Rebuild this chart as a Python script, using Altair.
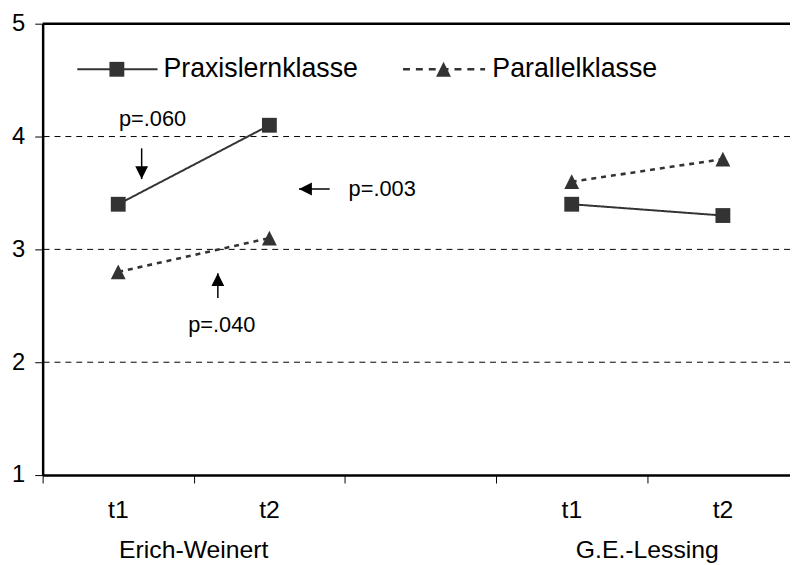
import json
import altair as alt
import pandas as pd

FONT = "Liberation Sans"

# ---- data -------------------------------------------------------------
slot_labels = ["t1", "t2", "", "t1", "t2"]          # x tick labels per slot
slot_ticks = [0, 1, 2, 3, 4]                         # slot boundaries
groups = ["Erich-Weinert", "G.E.-Lessing"]
group_pos = [1, 4]                                   # centre of each group
series = ["Praxislernklasse", "Parallelklasse"]
point_x = [0.5, 1.5, 3.5, 4.5]
point_group = ["Erich-Weinert", "Erich-Weinert", "G.E.-Lessing", "G.E.-Lessing"]
praxis = [3.4, 4.1, 3.4, 3.3]
parallel = [2.8, 3.1, 3.6, 3.8]
y_ticks = [1, 2, 3, 4, 5]
grid_vals = [2, 3, 4]
frame_top = [5]

# legend entries (in axis units)
leg_x1 = [0.229, 2.384]
leg_x2 = [0.760, 2.927]
leg_mid = [0.491, 2.652]
leg_text_x = [0.799, 2.975]
leg_y = [4.596, 4.596]

ann_text = ["p=.060", "p=.003", "p=.040"]
ann_x = [0.727, 2.246, 1.185]
ann_y = [4.158, 3.535, 2.325]
arrow_dir = ["down", "left", "up"]
arrow_x = [0.655, 1.899, 1.159]
arrow_y = [3.895, 3.535, 2.570]
arrow_tip_x = [0.655, 1.696, 1.159]
arrow_tip_y = [3.623, 3.535, 2.789]

# ---- tables -----------------------------------------------------------
rows = []
for s, vals in zip(series, [praxis, parallel]):
    for x, g, v in zip(point_x, point_group, vals):
        rows.append({"x": x, "group": g, "series": s, "value": v, "line": s + g})
df = pd.DataFrame(rows)
df_leg = pd.DataFrame({"series": series, "x": leg_x1, "x2": leg_x2, "mid": leg_mid,
                       "tx": leg_text_x, "value": leg_y})
df_grid = pd.DataFrame({"value": grid_vals})
df_top = pd.DataFrame({"value": frame_top})
df_groups = pd.DataFrame({"x": group_pos, "label": groups})
df_ann = pd.DataFrame({"x": ann_x, "value": ann_y, "label": ann_text})
df_arrow = pd.DataFrame({"x": arrow_x, "value": arrow_y, "tx": arrow_tip_x,
                         "ty": arrow_tip_y, "dir": arrow_dir})

W, H = 755, 456
XMAX = 4.944
xs = alt.Scale(domain=[0, XMAX], nice=False, zero=False)
ys = alt.Scale(domain=[1, 5], nice=False, zero=False)

x_axis = alt.Axis(values=slot_ticks, labelExpr=json.dumps(slot_labels) + "[datum.value]",
                  labelOffset=76, tickSize=8, tickColor="black", tickWidth=1,
                  domainColor="black", domainWidth=2.5, labelFont=FONT,
                  labelFontSize=25, labelColor="black", labelBaseline="middle",
                  labelPadding=27, labelFlush=False, labelOverlap=False,
                  labelBound=False, grid=False, title=None)
y_axis = alt.Axis(values=y_ticks, tickSize=8, tickColor="black", tickWidth=1,
                  domainColor="black", domainWidth=2.5, labelFont=FONT,
                  labelFontSize=24, labelColor="black", labelPadding=10,
                  grid=False, title=None, labelFlush=False, labelOverlap=False)

X = alt.X("x:Q", scale=xs, axis=x_axis)
Y = alt.Y("value:Q", scale=ys, axis=y_axis)
SQUARE = "M-1,-1H1V1H-1Z"
TRIANGLE = "M0,-1L1,1H-1Z"
shape_scale = alt.Scale(domain=series, range=[SQUARE, TRIANGLE])
width_scale = alt.Scale(domain=series, range=[2, 2.6])

grid = alt.Chart(df_grid).mark_rule(color="black", strokeWidth=1, strokeDash=[6, 5]).encode(y=Y)
top = alt.Chart(df_top).mark_rule(color="black", strokeWidth=2.5).encode(y=Y)

lines = alt.Chart(df).mark_line(color="#333333").encode(
    x=X, y=Y, detail="line:N",
    strokeWidth=alt.StrokeWidth("series:N", scale=width_scale, legend=None),
    strokeDash=alt.StrokeDash("series:N", scale=alt.Scale(domain=series, range=[[1, 0], [5, 5]]),
                              legend=None))
points = alt.Chart(df).mark_point(filled=True, color="#333333", size=225, opacity=1).encode(
    x=X, y=Y, shape=alt.Shape("series:N", scale=shape_scale, legend=None))

# legend drawn as marks
leg_lines = alt.Chart(df_leg).mark_rule(color="#333333").encode(
    x=X, x2="x2:Q", y=Y,
    strokeWidth=alt.StrokeWidth("series:N", scale=width_scale, legend=None),
    strokeDash=alt.StrokeDash("series:N", scale=alt.Scale(domain=series, range=[[1, 0], [7, 6]]),
                              legend=None))
leg_points = alt.Chart(df_leg).mark_point(filled=True, color="#333333", size=225, opacity=1).encode(
    x=alt.X("mid:Q", scale=xs, axis=x_axis), y=Y,
    shape=alt.Shape("series:N", scale=shape_scale, legend=None))
leg_text = alt.Chart(df_leg).mark_text(font=FONT, fontSize=27, color="black", align="left",
                                       baseline="middle").encode(
    x=alt.X("tx:Q", scale=xs, axis=x_axis), y=Y, text="series:N")

shafts = alt.Chart(df_arrow).mark_rule(color="black", strokeWidth=1.5).encode(
    x=X, x2="tx:Q", y=Y, y2="ty:Q")
heads = alt.Chart(df_arrow).mark_point(filled=True, color="black", size=676, opacity=1).encode(
    x=alt.X("tx:Q", scale=xs, axis=x_axis), y=alt.Y("ty:Q", scale=ys, axis=y_axis),
    shape=alt.Shape("dir:N", scale=alt.Scale(domain=arrow_dir, range=[
        "M0,0L-0.5,-1L0.5,-1Z", "M0,0L1,-0.5L1,0.5Z", "M0,0L-0.5,1L0.5,1Z"]), legend=None))
ann = alt.Chart(df_ann).mark_text(font=FONT, fontSize=22, color="black", baseline="middle").encode(
    x=X, y=Y, text="label:N")
group_text = alt.Chart(df_groups).mark_text(font=FONT, fontSize=25, color="black",
                                            baseline="middle").encode(
    x=X, y=alt.value(532), text="label:N")

chart = alt.layer(grid, top, lines, points, leg_lines, leg_points, leg_text,
                  shafts, heads, ann, group_text).resolve_scale(
    shape="independent", strokeDash="independent"
).properties(
    width=W, height=H,
    autosize=alt.AutoSizeParams(type="none"),
    padding={"left": 35, "top": 13, "right": 0, "bottom": 88},
).configure_view(stroke=None).configure(background="white")

chart.save("out.html", embed_options={"renderer": "svg", "actions": False})
